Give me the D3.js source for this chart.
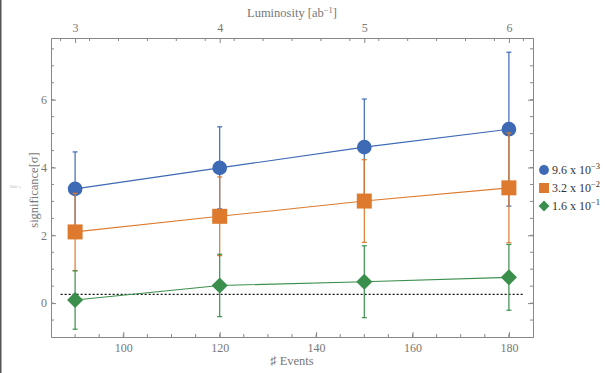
<!DOCTYPE html>
<html>
<head>
<meta charset="utf-8">
<script src="https://cdn.jsdelivr.net/npm/d3@7"></script>
<style>
  body { margin: 0; background: #fff; }
  text { font-family: "Liberation Serif", "DejaVu Serif", serif; }
  .axis path, .axis line { stroke: #888; }
  .axis text { fill: #777; }
</style>
</head>
<body>
<script>
// data
var events = [90, 120, 150, 180];
var lumiTicks = [3, 4, 5, 6];
var seriesNames = ["9.6 x 10", "3.2 x 10", "1.6 x 10"];
var seriesExp = ["\u22123", "\u22122", "\u22121"];
var blueVals = [3.37, 3.99, 4.60, 5.13];
var blueErr = [1.09, 1.21, 1.42, 2.27];
var orangeVals = [2.10, 2.56, 3.01, 3.40];
var orangeErr = [1.14, 1.16, 1.22, 1.62];
var greenVals = [0.09, 0.52, 0.63, 0.76];
var greenErr = [0.86, 0.92, 1.06, 0.97];
var threshold = 0.26;
var thresholdRange = [87, 183];

var W = 605, H = 373;
var margin = {top: 38, right: 72, bottom: 36, left: 51};
var width = W - margin.left - margin.right;
var height = H - margin.top - margin.bottom;
var serif = "'Liberation Serif', 'DejaVu Serif', serif";

var svg = d3.select("body").append("svg")
  .attr("width", W).attr("height", H);

// linker rand
svg.append("rect").attr("x", 0).attr("y", 0).attr("width", 1.5).attr("height", H).attr("fill", "#555");

var g = svg.append("g").attr("transform", "translate(" + margin.left + "," + margin.top + ")");

var x = d3.scaleLinear().domain([85, 185]).range([0, width]);
var xTop = d3.scaleLinear().domain([85 / 30, 185 / 30]).range([0, width]);
var y = d3.scaleLinear().domain([-1.0, 7.82]).range([height, 0]);

// minor ticks
function minor(axisG, vals, fn) {
  axisG.selectAll(".minor").data(vals).enter().append("line")
    .attr("class", "minor").attr("stroke", "#888").each(fn);
}
function styleAxis(axisG) {
  axisG.attr("font-family", serif).attr("font-size", 12);
}

// assen
var gx = g.append("g").attr("class", "axis").attr("transform", "translate(0," + height + ")")
  .call(d3.axisBottom(x).tickValues([100, 120, 140, 160, 180]).tickSize(-5).tickPadding(6).tickFormat(d3.format("d")));
styleAxis(gx);
minor(gx, d3.range(90, 185, 5), function(d) {
  d3.select(this).attr("x1", x(d)).attr("x2", x(d)).attr("y1", 0).attr("y2", -3);
});

var gt = g.append("g").attr("class", "axis")
  .call(d3.axisTop(xTop).tickValues(lumiTicks).tickSize(-5).tickPadding(6).tickFormat(d3.format("d")));
styleAxis(gt);
minor(gt, d3.range(2.9, 6.15, 0.2), function(d) {
  d3.select(this).attr("x1", xTop(d)).attr("x2", xTop(d)).attr("y1", 0).attr("y2", 3);
});

var gy = g.append("g").attr("class", "axis")
  .call(d3.axisLeft(y).tickValues([0, 2, 4, 6]).tickSize(-5).tickPadding(4).tickFormat(d3.format("d")));
styleAxis(gy);
minor(gy, d3.range(-0.5, 7.8, 0.5), function(d) {
  d3.select(this).attr("x1", 0).attr("x2", 3).attr("y1", y(d)).attr("y2", y(d));
});

var gr = g.append("g").attr("class", "axis").attr("transform", "translate(" + width + ",0)")
  .call(d3.axisRight(y).tickValues([0, 2, 4, 6]).tickSize(-5).tickFormat(""));
minor(gr, d3.range(-0.5, 7.8, 0.5), function(d) {
  d3.select(this).attr("x1", 0).attr("x2", -3).attr("y1", y(d)).attr("y2", y(d));
});

// drempellijn
g.append("line")
  .attr("x1", x(thresholdRange[0])).attr("x2", x(thresholdRange[1]))
  .attr("y1", y(threshold)).attr("y2", y(threshold))
  .attr("stroke", "#111").attr("stroke-width", 1.2).attr("stroke-dasharray", "2,2");

var series = [
  {vals: blueVals, err: blueErr, color: "#3d69b5", shape: d3.symbolCircle, size: 170, rot: 0},
  {vals: orangeVals, err: orangeErr, color: "#dd7a2d", shape: d3.symbolSquare, size: 225, rot: 0},
  {vals: greenVals, err: greenErr, color: "#3b8f4c", shape: d3.symbolSquare, size: 130, rot: 45}
];

var line = d3.line().x(function(d) { return x(d.x); }).y(function(d) { return y(d.y); });

series.forEach(function(s) {
  var pts = events.map(function(e, i) { return {x: e, y: s.vals[i], e: s.err[i]}; });
  var sg = g.append("g");
  // foutbalken
  sg.selectAll(".eb").data(pts).enter().append("line")
    .attr("x1", function(d) { return x(d.x); }).attr("x2", function(d) { return x(d.x); })
    .attr("y1", function(d) { return y(d.y - d.e); }).attr("y2", function(d) { return y(d.y + d.e); })
    .attr("stroke", s.color).attr("stroke-width", 1.2);
  [-1, 1].forEach(function(sign) {
    sg.selectAll(".cap" + sign).data(pts).enter().append("line")
      .attr("x1", function(d) { return x(d.x) - 2.5; }).attr("x2", function(d) { return x(d.x) + 2.5; })
      .attr("y1", function(d) { return y(d.y + sign * d.e); }).attr("y2", function(d) { return y(d.y + sign * d.e); })
      .attr("stroke", s.color).attr("stroke-width", 1.2);
  });
  sg.append("path").datum(pts).attr("d", line)
    .attr("fill", "none").attr("stroke", s.color).attr("stroke-width", 1.1);
  sg.selectAll(".pt").data(pts).enter().append("path")
    .attr("d", d3.symbol().type(s.shape).size(s.size))
    .attr("transform", function(d) { return "translate(" + x(d.x) + "," + y(d.y) + ") rotate(" + s.rot + ")"; })
    .attr("fill", s.color);
});

// legenda
var lg = svg.append("g").attr("transform", "translate(544,170)");
series.forEach(function(s, i) {
  var row = lg.append("g").attr("transform", "translate(0," + (i * 18) + ")");
  row.append("path").attr("d", d3.symbol().type(s.shape).size(s.size * 0.45))
    .attr("transform", "rotate(" + s.rot + ")").attr("fill", s.color);
  var t = row.append("text").attr("x", 8).attr("y", 4).attr("font-size", 12).attr("fill", "#333").text(seriesNames[i]);
  t.append("tspan").attr("dy", -5).attr("font-size", 8.5).text(seriesExp[i]);
});

// labels
var lumiTitle = svg.append("text").attr("x", margin.left + width / 2).attr("y", 17).attr("text-anchor", "middle")
  .attr("font-size", 12.5).attr("fill", "#777");
lumiTitle.append("tspan").text("Luminosity [ab");
lumiTitle.append("tspan").attr("dy", -4).attr("font-size", 8.5).text("\u22121");
lumiTitle.append("tspan").attr("dy", 4).text("]");

svg.append("text").attr("x", margin.left + width / 2).attr("y", 365).attr("text-anchor", "middle")
  .attr("font-size", 12.5).attr("fill", "#777").text("\u266F Events");

svg.append("text").attr("transform", "translate(38,190) rotate(-90)").attr("text-anchor", "middle")
  .attr("font-size", 12.5).attr("fill", "#777").text("significance[\u03C3]");

svg.append("text").attr("x", 10).attr("y", 188).attr("font-size", 4).attr("fill", "#bbb").text("\u03A9ah\u00B2 \u2265");
</script>
</body>
</html>
